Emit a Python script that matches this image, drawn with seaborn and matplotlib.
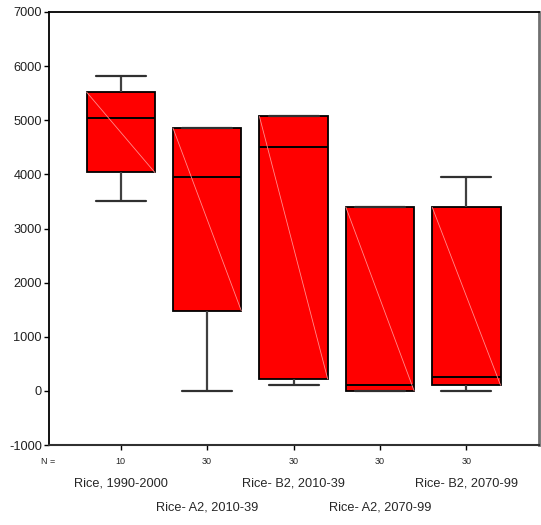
import numpy as np
import pandas as pd
import matplotlib
matplotlib.use("Agg")
import matplotlib.pyplot as plt
import seaborn as sns

# Five-number summaries of rice yield per scenario/period
categories = ["Rice, 1990-2000", "Rice- A2, 2010-39", "Rice- B2, 2010-39",
              "Rice- A2, 2070-99", "Rice- B2, 2070-99"]
n_counts = [10, 30, 30, 30, 30]
lower_whisker = [3500, 0, 110, 0, 0]
q1 = [4035, 1480, 220, 0, 105]
median = [5045, 3955, 4515, 105, 265]
q3 = [5520, 4855, 5070, 3395, 3390]
upper_whisker = [5810, 4855, 5070, 3395, 3950]
y_ticks = [-1000, 0, 1000, 2000, 3000, 4000, 5000, 6000, 7000]

# Long-form table: one row per summary value, so the box statistics
# computed by seaborn reproduce the summaries exactly
rows = []
for cat, lo, a, m, b, hi in zip(categories, lower_whisker, q1, median, q3, upper_whisker):
    for v in (lo, a, m, b, hi):
        rows.append({"group": cat, "value": v})
df = pd.DataFrame(rows)

sns.set_style("ticks")
plt.rcParams["font.family"] = ["Liberation Sans", "DejaVu Sans"]

W, H = 541, 525
left_px, right_px, top_px, bottom_px = 49, 539, 12, 445
fig = plt.figure(figsize=(W / 100, H / 100), dpi=100)
ax = fig.add_axes([left_px / W, 1 - bottom_px / H,
                   (right_px - left_px) / W, (bottom_px - top_px) / H])

box_width = 0.79
sns.boxplot(data=df, x="group", y="value", order=categories, ax=ax,
            color="#ff0000", saturation=1, linecolor="black", linewidth=1.3,
            width=box_width, whis=(0, 100), capwidths=0.58, showfliers=False,
            whiskerprops={"color": "#404040", "linewidth": 1.6},
            capprops={"color": "#303030", "linewidth": 1.6},
            medianprops={"color": "black", "linewidth": 1.4})

# faint diagonal through each box, top-left to bottom-right
half = box_width / 2
for i, (a, b) in enumerate(zip(q1, q3)):
    ax.plot([i - half, i + half], [b, a], color="#ff8c8c", lw=0.6, zorder=5)

ax.set_xlim(-0.83, 4.84)
ax.set_ylim(-1000, 7000)
ax.set_yticks(y_ticks)
ax.set_yticklabels([str(t) for t in y_ticks], fontsize=9.2, color="#202020")
ax.set_xticks(range(len(categories)))
ax.set_xticklabels([])
ax.set_xlabel("")
ax.set_ylabel("")
ax.tick_params(axis="y", direction="out", length=3.6, width=1, color="black", pad=1.5)
ax.tick_params(axis="x", direction="out", length=3.6, width=1, color="black")

for side in ["left", "top"]:
    ax.spines[side].set_visible(True)
    ax.spines[side].set_color("black")
    ax.spines[side].set_linewidth(1.3)
ax.spines["bottom"].set_visible(True)
ax.spines["bottom"].set_color("#303030")
ax.spines["bottom"].set_linewidth(1.5)
ax.spines["right"].set_visible(True)
ax.spines["right"].set_color("#707070")
ax.spines["right"].set_linewidth(2)

# counts row and staggered category labels
xt = ax.get_xaxis_transform()
ax_h = bottom_px - top_px
fig.text(48 / W, 1 - 462 / H, "N =", fontsize=6.5, ha="center", va="center")
for i, (cat, n) in enumerate(zip(categories, n_counts)):
    ax.text(i, -(462 - bottom_px) / ax_h, str(n), transform=xt, fontsize=6.5,
            ha="center", va="center")
    y_px = 483 if i % 2 == 0 else 508
    ax.text(i, -(y_px - bottom_px) / ax_h, cat, transform=xt, fontsize=9.2,
            ha="center", va="center")

fig.savefig("out.png", dpi=100, facecolor="white")
